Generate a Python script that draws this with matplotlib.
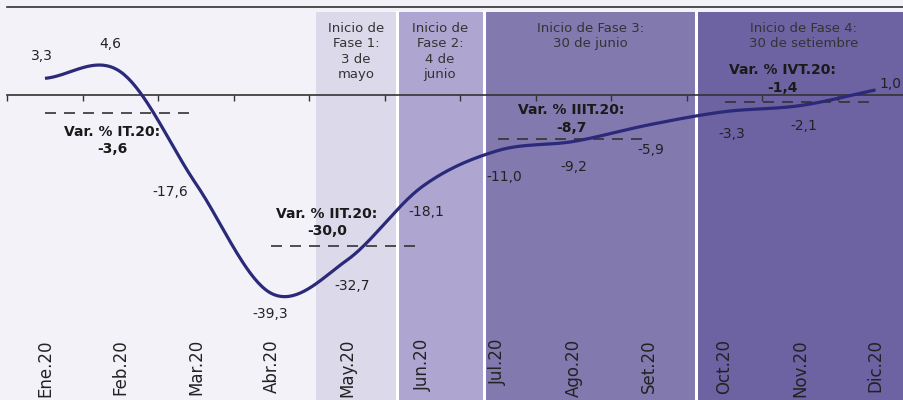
import numpy as np
import matplotlib
matplotlib.use('Agg')
import matplotlib.pyplot as plt
from matplotlib.transforms import blended_transform_factory

# ---------------- data ----------------
months = ['Ene.20', 'Feb.20', 'Mar.20', 'Abr.20', 'May.20', 'Jun.20',
          'Jul.20', 'Ago.20', 'Set.20', 'Oct.20', 'Nov.20', 'Dic.20']
values = [3.3, 4.6, -17.6, -39.3, -32.7, -18.1, -11.0, -9.2, -5.9, -3.3, -2.1, 1.0]
quarter_names = ['IT.20', 'IIT.20', 'IIIT.20', 'IVT.20']
quarter_values = [-3.6, -30.0, -8.7, -1.4]
phase_labels = ['Inicio de\nFase 1:\n3 de\nmayo',
                'Inicio de\nFase 2:\n4 de\njunio',
                'Inicio de Fase 3:\n30 de junio',
                'Inicio de Fase 4:\n30 de setiembre']

# ---------------- styling / layout ----------------
BG = '#F3F2F8'
band_edges = [(3.589, 4.662), (4.662, 5.821), (5.821, 8.616), (8.616, 11.6)]
band_colors = ['#DCD9EA', '#AEA6D0', '#8279AF', '#6D62A2']
phase_text_x = [4.12, 5.23, 7.22, 10.05]
line_color = '#2B2979'
value_offsets = [(-3, 22), (-10, 28), (-26, -8), (-1, -21), (5, -26), (4, -26),
                 (6, -26), (0, -26), (2, -25), (7, -22), (4, -20), (15, 6)]
quarter_offsets = [(-8, -27), (-20, 24), (-2, 20), (-18, 23)]

def fmt(v):
    return f"{v:.1f}".replace('.', ',')

fig = plt.figure(figsize=(9.04, 4.0), dpi=100, facecolor=BG)
ax = fig.add_axes([7 / 904, 0, 897 / 904, 393 / 400])
ax.set_facecolor(BG)

# shaded bands
for (x0, x1), c in zip(band_edges, band_colors):
    ax.axvspan(x0, x1, ymin=0, ymax=0.987, color=c, lw=0, zorder=0)
for (x0, x1) in band_edges[1:]:
    ax.axvline(x0, ymin=0, ymax=0.987, color='white', lw=2.2, zorder=0.5)

# smooth curve (Catmull-Rom style interpolation through the monthly values)
x = np.arange(len(values), dtype=float)
y = np.array(values, dtype=float)
n = len(y)
m = np.zeros(n)
m[1:-1] = (y[2:] - y[:-2]) / 2.0
m[0] = (y[1] - y[0])
m[-1] = (y[-1] - y[-2])
xs, ys = [], []
for i in range(n - 1):
    t = np.linspace(0, 1, 40)
    h00 = 2 * t**3 - 3 * t**2 + 1
    h10 = t**3 - 2 * t**2 + t
    h01 = -2 * t**3 + 3 * t**2
    h11 = t**3 - t**2
    xs.append(x[i] + t)
    ys.append(h00 * y[i] + h10 * m[i] + h01 * y[i + 1] + h11 * m[i + 1])
ax.plot(np.concatenate(xs), np.concatenate(ys), color=line_color, lw=2.3,
        solid_capstyle='butt', zorder=4)

# quarterly dashed lines
for q, qv in enumerate(quarter_values):
    ax.plot([3 * q, 3 * q + 2], [qv, qv], color='#333333', lw=1.2,
            dashes=(6.6, 4.8), zorder=3)
    dx, dy = quarter_offsets[q]
    ax.annotate(f"Var. % {quarter_names[q]}:\n{fmt(qv)}", xy=(3 * q + 1, qv),
                xytext=(dx, dy), textcoords='offset pixels', ha='center',
                va='center', fontsize=10, fontweight='bold', color='#1a1a1a',
                linespacing=1.3, zorder=5)

# value labels
for i, v in enumerate(values):
    dx, dy = value_offsets[i]
    ax.annotate(fmt(v), xy=(i, v), xytext=(dx, dy), textcoords='offset pixels',
                ha='center', va='center', fontsize=10, color='#222222', zorder=5)

# phase texts
trans = blended_transform_factory(ax.transData, ax.transAxes)
for xt, lab in zip(phase_text_x, phase_labels):
    ax.text(xt, 0.962, lab, transform=trans, ha='center', va='top',
            fontsize=9.5, color='#333333', linespacing=1.25, zorder=5)

# month labels
for i, lab in enumerate(months):
    ax.text(i, 0.155, lab, transform=trans, rotation=90, ha='center', va='top',
            fontsize=12, color='#222222', zorder=5)

# axes: zero line with boundary ticks, top rule
for s in ['left', 'right']:
    ax.spines[s].set_visible(False)
ax.spines['bottom'].set_position(('data', 0))
ax.spines['bottom'].set_color('#333333')
ax.spines['bottom'].set_linewidth(1.2)
ax.spines['bottom'].set_zorder(3)
ax.spines['top'].set_color('#333333')
ax.spines['top'].set_linewidth(1.2)
ax.set_xticks(np.arange(-0.5, 11.0, 1.0))
ax.set_xticklabels([])
ax.tick_params(axis='x', direction='out', length=4, width=1, color='#333333')
ax.set_yticks([])
ax.set_xlim(-0.503, 11.377)
ax.set_ylim(-60.4, 17.43)

fig.savefig('out.png', dpi=100, facecolor=BG)
